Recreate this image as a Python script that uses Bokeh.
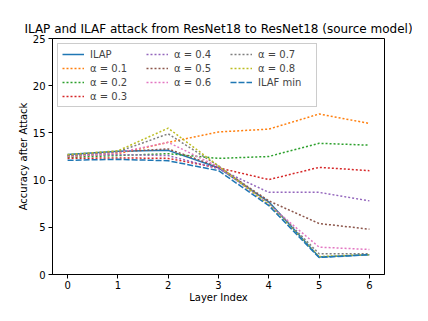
from bokeh.plotting import figure
from bokeh.models import Range1d, FixedTicker, Legend, LegendItem
from bokeh.embed import file_html
from bokeh.resources import INLINE

layers = [0, 1, 2, 3, 4, 5, 6]
ilap = [12.7, 13.05, 13.15, 11.3, 7.7, 1.85, 2.1]
a01 = [12.5, 12.8, 14.0, 15.1, 15.4, 17.0, 16.0]
a02 = [12.4, 12.6, 12.8, 12.3, 12.5, 13.9, 13.7]
a03 = [12.3, 12.35, 12.3, 11.3, 10.05, 11.35, 11.0]
a04 = [12.6, 12.7, 12.6, 11.2, 8.7, 8.7, 7.8]
a05 = [12.6, 13.0, 13.3, 11.4, 7.8, 5.4, 4.8]
a06 = [12.5, 12.9, 14.0, 11.4, 7.4, 2.9, 2.65]
a07 = [12.6, 13.0, 14.9, 11.5, 7.6, 2.2, 2.2]
a08 = [12.7, 13.1, 15.5, 11.5, 7.4, 1.9, 2.1]
ilaf_min = [12.1, 12.2, 12.05, 11.0, 7.3, 1.8, 2.1]

series = [
    ("ILAP", ilap, "#1f77b4", "solid"),
    ("α = 0.1", a01, "#ff7f0e", "2 2"),
    ("α = 0.2", a02, "#2ca02c", "2 2"),
    ("α = 0.3", a03, "#d62728", "2 2"),
    ("α = 0.4", a04, "#9467bd", "2 2"),
    ("α = 0.5", a05, "#8c564b", "2 2"),
    ("α = 0.6", a06, "#e377c2", "2 2"),
    ("α = 0.7", a07, "#7f7f7f", "2 2"),
    ("α = 0.8", a08, "#bcbd22", "2 2"),
    ("ILAF min", ilaf_min, "#1f77b4", "6 2"),
]

FONT = "DejaVu Sans"

p = figure(width=412, height=305, output_backend="svg", toolbar_location=None,
           x_range=Range1d(-0.3, 6.3), y_range=Range1d(0, 25),
           min_border_left=52, min_border_right=28, min_border_top=38, min_border_bottom=20,
           title="ILAP and ILAF attack from ResNet18 to ResNet18 (source model)")
p.title.align = "center"
p.title.text_font = FONT
p.title.text_font_size = "12px"
p.title.text_font_style = "normal"
p.title.text_color = "black"
p.title.standoff = 6

p.xgrid.visible = False
p.ygrid.visible = False
p.outline_line_color = "black"
p.outline_line_width = 1
p.outline_line_alpha = 1

for ax in (p.xaxis[0], p.yaxis[0]):
    ax.major_label_text_font = FONT
    ax.major_label_text_font_size = "10px"
    ax.major_label_text_color = "black"
    ax.axis_label_text_font = FONT
    ax.axis_label_text_font_size = "10px"
    ax.axis_label_text_font_style = "normal"
    ax.axis_label_text_color = "black"
    ax.minor_tick_line_color = None
    ax.major_tick_out = 4
    ax.major_tick_in = 0
    ax.axis_line_color = "black"
    ax.major_tick_line_color = "black"

p.xaxis.ticker = FixedTicker(ticks=layers)
p.yaxis.ticker = FixedTicker(ticks=[0, 5, 10, 15, 20, 25])
p.xaxis.axis_label = "Layer Index"
p.yaxis.axis_label = "Accuracy after Attack"
p.xaxis.major_label_standoff = 2
p.yaxis.major_label_standoff = 3
p.xaxis.axis_label_standoff = 0
p.yaxis.axis_label_standoff = 1

renderers = {}
for name, ys, color, dash in series:
    renderers[name] = p.line(layers, ys, line_color=color, line_width=1.5, line_dash=dash)

# invisible placeholder so the legend columns split 4 / 3 / 3
blank = p.line([0], [0], line_alpha=0)

order = ["ILAP", "α = 0.1", "α = 0.2", "α = 0.3",
         "α = 0.4", "α = 0.5", "α = 0.6", None,
         "α = 0.7", "α = 0.8", "ILAF min"]
items = []
for name in order:
    if name is None:
        items.append(LegendItem(label=" ", renderers=[blank]))
    else:
        items.append(LegendItem(label=name, renderers=[renderers[name]]))

legend = Legend(items=items, location="top_left", orientation="vertical", nrows=4,
                label_text_font=FONT, label_text_font_size="10px",
                glyph_width=22, glyph_height=12, label_height=12, label_width=54,
                label_standoff=6, spacing=2, padding=4, margin=5,
                border_line_color="#cccccc", border_line_alpha=1,
                background_fill_alpha=0.8)
p.add_layout(legend, "center")

open("out.html", "w").write(file_html(p, INLINE))
